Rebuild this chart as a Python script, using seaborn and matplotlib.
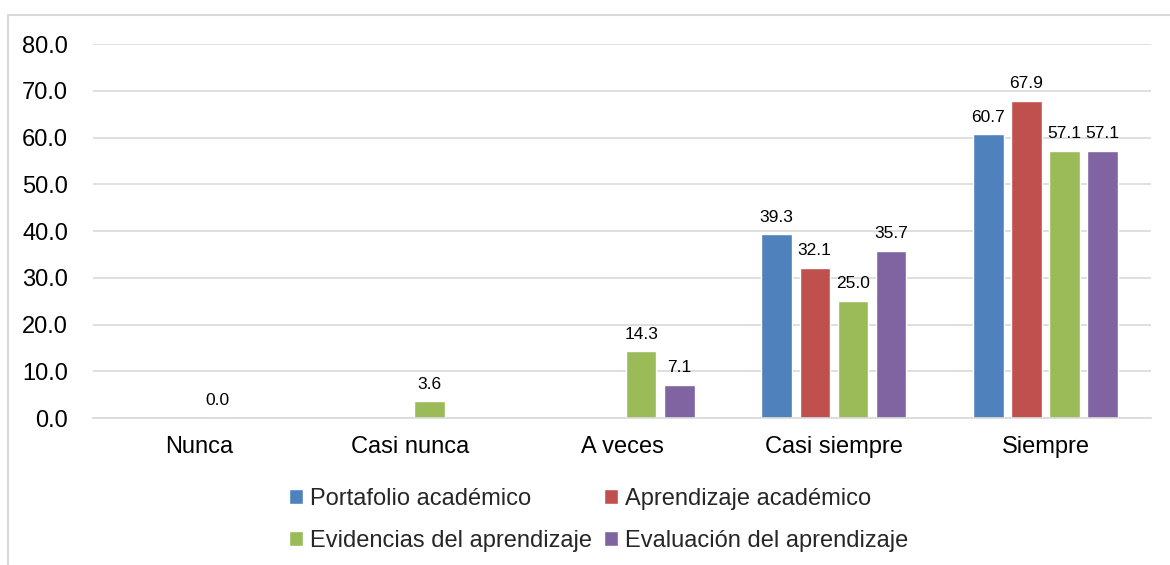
import numpy as np
import pandas as pd
import seaborn as sns
import matplotlib.pyplot as plt
from matplotlib.patches import Rectangle

categories = ["Nunca", "Casi nunca", "A veces", "Casi siempre", "Siempre"]
series = ["Portafolio académico", "Aprendizaje académico",
          "Evidencias del aprendizaje", "Evaluación del aprendizaje"]
portafolio = [np.nan, np.nan, np.nan, 39.3, 60.7]
aprendizaje = [np.nan, np.nan, np.nan, 32.1, 67.9]
evidencias = [0.0, 3.6, 14.3, 25.0, 57.1]
evaluacion = [np.nan, np.nan, 7.1, 35.7, 57.1]
colors = ["#4F81BD", "#C0504D", "#9BBB59", "#8064A2"]

# long table for seaborn
df = pd.DataFrame({
    "categoria": categories * 4,
    "serie": np.repeat(series, len(categories)),
    "valor": portafolio + aprendizaje + evidencias + evaluacion,
})

sns.set_style("white")
plt.rcParams["font.family"] = ["Liberation Sans", "DejaVu Sans"]

fig = plt.figure(figsize=(11.7, 5.65), dpi=100)
ax = fig.add_axes([0.0795, 0.26, 0.9045, 0.662])

sns.barplot(data=df, x="categoria", y="valor", hue="serie", order=categories,
            hue_order=series, palette=colors, width=0.72, gap=0.2,
            saturation=1, ax=ax, legend=True)

# value labels above bars
for cont in ax.containers:
    labels = ["" if np.isnan(v) else f"{v:.1f}" for v in cont.datavalues]
    ax.bar_label(cont, labels=labels, padding=7, fontsize=12.5, color="#000000")

ax.set_ylim(0, 80)
ax.set_yticks(np.arange(0, 81, 10))
ax.set_yticklabels([f"{t:.1f}" for t in np.arange(0, 81, 10)])
ax.yaxis.grid(True, color="#d9d9d9", linewidth=1.2)
ax.set_axisbelow(True)
for s in ["top", "right", "left"]:
    ax.spines[s].set_visible(False)
ax.spines["bottom"].set_color("#d9d9d9")
ax.spines["bottom"].set_linewidth(1.2)
ax.tick_params(axis="both", length=0, labelsize=17, colors="#000000")
ax.tick_params(axis="x", pad=13)
ax.tick_params(axis="y", pad=18)
ax.set_xlabel("")
ax.set_ylabel("")

# legend filled row by row like the original
handles, labs = ax.get_legend_handles_labels()
order = [0, 2, 1, 3]
ax.legend([handles[i] for i in order], [labs[i] for i in order],
          loc="upper center", bbox_to_anchor=(0.478, -0.13), ncol=2,
          frameon=False, fontsize=17, handlelength=0.6, handleheight=0.6,
          handletextpad=0.3, columnspacing=0.5, labelspacing=0.85)

# outer chart frame
fig.patches.append(Rectangle((8 / 1170, -0.05), 1.1, 1 - 15 / 565 + 0.05,
                             transform=fig.transFigure, fill=False,
                             edgecolor="#d9d9d9", linewidth=1.5))

fig.savefig("out.png", dpi=100, facecolor="white")
